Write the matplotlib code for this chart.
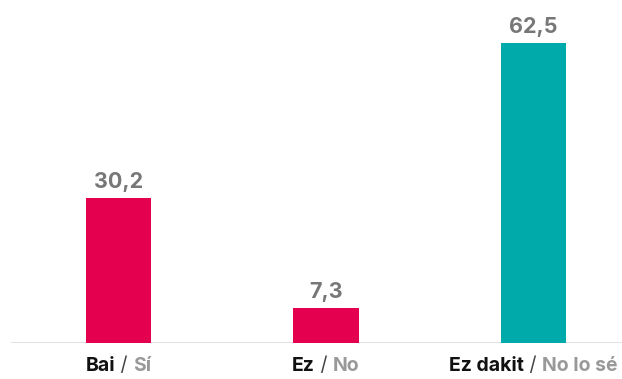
import matplotlib.pyplot as plt

# Datos de la encuesta
categorias_eu = ["Bai", "Ez", "Ez dakit"]
categorias_es = ["Sí", "No", "No lo sé"]
valores = [30.2, 7.3, 62.5]
colores = ["#E5004F", "#E5004F", "#00AAAA"]

plt.rcParams['font.family'] = ['Inter', 'DejaVu Sans']

fig = plt.figure(figsize=(6.22, 3.79), dpi=100)
ax = fig.add_axes([0, (379 - 343) / 379, 1, 300 / 379])

x = list(range(len(valores)))
ax.bar(x, valores, width=0.315, color=colores, zorder=2)
ax.set_xlim(-0.571, 2.427)
ax.set_ylim(0, 62.5)
ax.axis('off')

# Línea base
ax.axhline(0, xmin=12 / 622, xmax=1, color="#dedede", lw=2, zorder=1)

# Etiquetas de valor
for xi, v in zip(x, valores):
    ax.annotate(f"{v:.1f}".replace(".", ","), (xi, v), xytext=(0, 4),
                textcoords="offset points", ha="center", va="bottom",
                fontsize=15.5, fontweight="bold", color="#777777")

# Etiquetas del eje: euskera en negro / castellano en gris
fig.canvas.draw()
renderer = fig.canvas.get_renderer()
y_txt = (379 - 366) / 379
for xi, eu, es in zip(x, categorias_eu, categorias_es):
    piezas = [(eu, "bold", "#111111"), (" / ", "normal", "#444444"), (es, "bold", "#999999")]
    textos = [fig.text(0, y_txt, t, fontsize=14, fontweight=w, color=c,
                       ha="left", va="center") for t, w, c in piezas]
    anchos = [t.get_window_extent(renderer).width for t in textos]
    cx = ax.transData.transform((xi, 0))[0]
    izq = cx - sum(anchos) / 2
    for t, w in zip(textos, anchos):
        t.set_x(izq / fig.bbox.width)
        izq += w

fig.savefig("out.png", dpi=100)
